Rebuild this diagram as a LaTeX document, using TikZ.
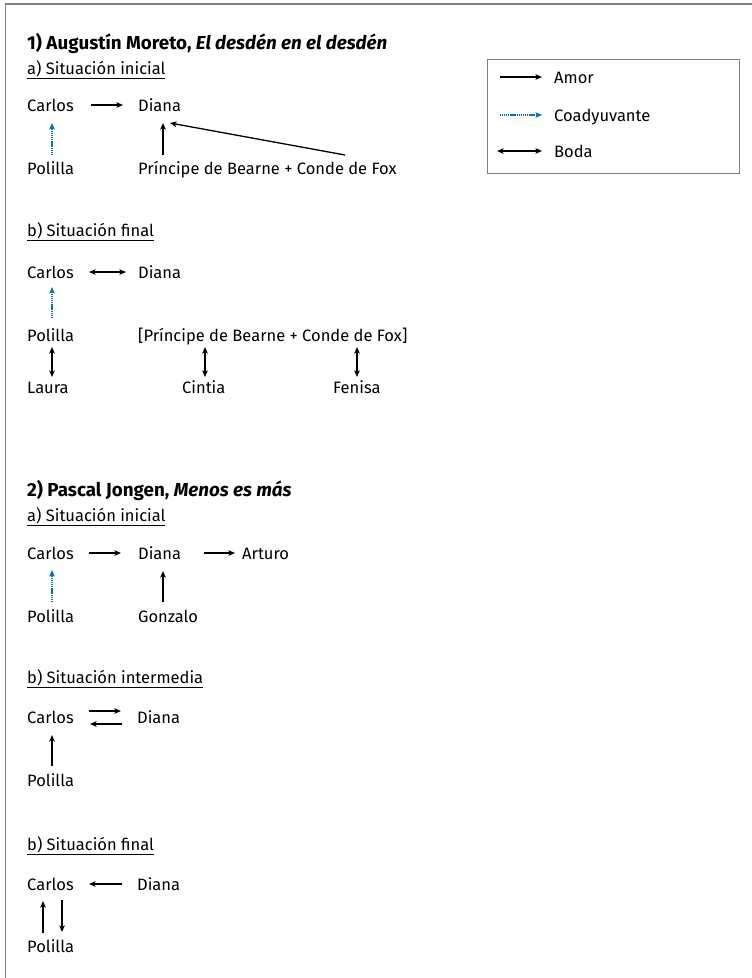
\documentclass[tikz,border=0pt]{standalone}
\usepackage{fontspec}
\setmainfont{Fira Sans}
\usetikzlibrary{arrows.meta,calc}
\definecolor{coadblue}{RGB}{0,112,192}
\definecolor{framegray}{RGB}{128,128,128}
\begin{document}
\begin{tikzpicture}[x=1pt,y=-1pt,
  txt/.style={anchor=base west,inner sep=0pt,font=\fontsize{16.5}{19}\selectfont},
  ttl/.style={txt,font=\fontsize{18.8}{21}\selectfont\bfseries},
  amor/.style={line width=1.3pt,-{Stealth[length=6.5pt,width=5.5pt,inset=1.5pt]}},
  boda/.style={line width=1.3pt,{Stealth[length=6.5pt,width=5.5pt,inset=1.5pt]}-{Stealth[length=6.5pt,width=5.5pt,inset=1.5pt]}},
  coad/.style={line width=1.3pt,coadblue,dash pattern=on 1.2pt off 0.7pt,-{Stealth[length=6.5pt,width=5.5pt,inset=1.5pt]}},
]
\useasboundingbox (0,0) rectangle (752,978);
\fill[white] (0,0) rectangle (752,978);
% outer frame
\draw[framegray,line width=1.3pt] (5.5,990) -- (5.5,4) -- (770,4);

% legend
\node[draw=framegray,line width=1pt,anchor=north west,minimum width=252pt,minimum height=114pt,inner sep=0pt] (leg) at (487,59) {};
\node[txt] (lam) at (554,83) {Amor};
\node[txt] (lco) at (554,121) {Coadyuvante};
\node[txt] (lbo) at (554,157) {Boda};
\draw[amor] ([shift={(-54,-6)}]lam.base west) -- ([shift={(-12,-6)}]lam.base west);
\draw[coad] ([shift={(-54,-6)}]lco.base west) -- ([shift={(-12,-6)}]lco.base west);
\draw[boda] ([shift={(-57,-6)}]lbo.base west) -- ([shift={(-12,-6)}]lbo.base west);

% ---------- Section 1
\node[ttl] (t1) at (27,49) {1) Augustín Moreto, \textit{El desdén en el desdén}};
\node[txt] (s1a) at (27,74) {\underline{a) Situación inicial}};
\node[txt] (c1) at (27,111) {Carlos};
\node[txt] (d1) at (138,111) {Diana};
\node[txt] (p1) at (27,174) {Polilla};
\node[txt] (pr1) at (138,174) {Príncipe de Bearne + Conde de Fox};
\draw[amor] ([shift={(64,-6)}]c1.base west) -- ([shift={(-15,-6)}]d1.base west);
\draw[coad] ([shift={(25,-19)}]p1.base west) -- ([shift={(25,12)}]c1.base west);
\draw[amor] ([shift={(25,-19)}]pr1.base west) -- ([shift={(25,12)}]d1.base west);
\draw[amor] ([shift={(207,-19)}]pr1.base west) -- ([shift={(32,12)}]d1.base west);

\node[txt] (s1b) at (27,236) {\underline{b) Situación final}};
\node[txt] (c2) at (27,278) {Carlos};
\node[txt] (d2) at (138,278) {Diana};
\node[txt] (p2) at (27,341) {Polilla};
\node[txt] (pr2) at (138,341) {[Príncipe de Bearne + Conde de Fox]};
\node[txt] (l2) at (27,393) {Laura};
\node[txt] (ci2) at (182,393) {Cintia};
\node[txt] (fe2) at (333,393) {Fenisa};
\draw[boda] ([shift={(62,-6)}]c2.base west) -- ([shift={(-12,-6)}]d2.base west);
\draw[coad] ([shift={(25,-23)}]p2.base west) -- ([shift={(25,9)}]c2.base west);
\draw[boda] ([shift={(25,-16)}]l2.base west) -- ([shift={(25,6)}]p2.base west);
\draw[boda] ([shift={(23,-16)}]ci2.base west) -- ([shift={(67,6)}]pr2.base west);
\draw[boda] ([shift={(24,-16)}]fe2.base west) -- ([shift={(219,6)}]pr2.base west);

% ---------- Section 2
\node[ttl] (t2) at (27,496) {2) Pascal Jongen, \textit{Menos es más}};
\node[txt] (s2a) at (27,521) {\underline{a) Situación inicial}};
\node[txt] (c3) at (27,559) {Carlos};
\node[txt] (d3) at (138,559) {Diana};
\node[txt] (a3) at (242,559) {Arturo};
\node[txt] (p3) at (27,622) {Polilla};
\node[txt] (g3) at (138,622) {Gonzalo};
\draw[amor] ([shift={(62,-6)}]c3.base west) -- ([shift={(-17,-6)}]d3.base west);
\draw[amor] ([shift={(66,-6)}]d3.base west) -- ([shift={(-7,-6)}]a3.base west);
\draw[coad] ([shift={(25,-20)}]p3.base west) -- ([shift={(25,11)}]c3.base west);
\draw[amor] ([shift={(25,-20)}]g3.base west) -- ([shift={(25,12)}]d3.base west);

\node[txt] (s2b) at (27,683) {\underline{b) Situación intermedia}};
\node[txt] (c4) at (27,723) {Carlos};
\node[txt] (d4) at (137,723) {Diana};
\node[txt] (p4) at (27,786) {Polilla};
\draw[amor] ([shift={(62,-12)}]c4.base west) -- ([shift={(-16,-12)}]d4.base west);
\draw[amor] ([shift={(-15,1)}]d4.base west) -- ([shift={(63,1)}]c4.base west);
\draw[amor] ([shift={(25,-20)}]p4.base west) -- ([shift={(25,12)}]c4.base west);

\node[txt] (s2c) at (27,850) {\underline{b) Situación final}};
\node[txt] (c5) at (27,890) {Carlos};
\node[txt] (d5) at (137,890) {Diana};
\node[txt] (p5) at (27,952) {Polilla};
\draw[amor] ([shift={(-15,-6)}]d5.base west) -- ([shift={(62,-6)}]c5.base west);
\draw[amor] ([shift={(16,-19)}]p5.base west) -- ([shift={(16,11)}]c5.base west);
\draw[amor] ([shift={(35,10)}]c5.base west) -- ([shift={(35,-20)}]p5.base west);
\end{tikzpicture}
\end{document}
